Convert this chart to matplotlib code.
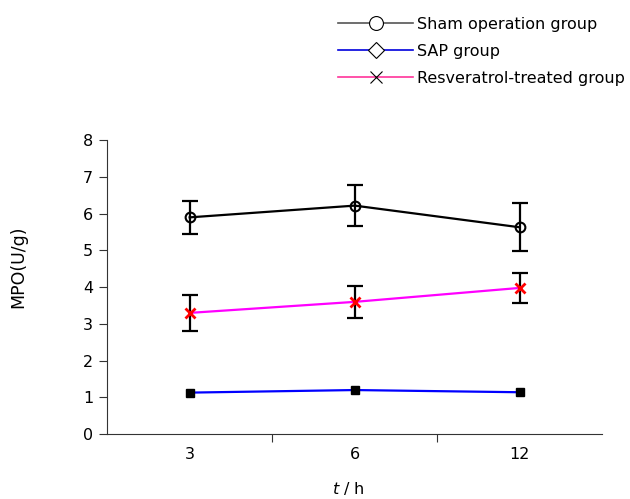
import matplotlib
matplotlib.use("Agg")
import matplotlib.pyplot as plt
from matplotlib.lines import Line2D

categories = ["3", "6", "12"]
sham_mean = [5.90, 6.22, 5.63]
sham_err = [0.45, 0.55, 0.65]
sap_mean = [1.13, 1.20, 1.14]
sap_err = [0.05, 0.05, 0.05]
res_mean = [3.30, 3.60, 3.98]
res_err = [0.50, 0.43, 0.40]
series_labels = ["Sham operation group", "SAP group", "Resveratrol-treated group"]

plt.rcParams['font.family'] = ['DejaVu Sans']
FS = 11.5
fig = plt.figure(figsize=(6.30, 4.99), dpi=100)
ax = fig.add_axes([0.170, 0.130, 0.786, 0.589])

x = list(range(len(categories)))

# lines
ax.plot(x, sham_mean, color='black', lw=1.6, zorder=2)
ax.plot(x, sap_mean, color='#0000ff', lw=1.6, zorder=2)
ax.plot(x, res_mean, color='#ff00ff', lw=1.6, zorder=2)

# error bars
for m, e in [(sham_mean, sham_err), (res_mean, res_err)]:
    ax.errorbar(x, m, yerr=e, fmt='none', ecolor='black', elinewidth=1.6,
                capsize=5.5, capthick=1.6, zorder=3)

# markers
ax.plot(x, sham_mean, ls='none', marker='o', ms=7, mfc='none', mec='black', mew=1.5, zorder=4)
ax.plot(x, sap_mean, ls='none', marker='s', ms=6, mfc='black', mec='black', zorder=4)
ax.plot(x, res_mean, ls='none', marker='x', ms=7, mec='red', mew=2, zorder=4)

ax.set_xlim(-0.5, 2.5)
ax.set_ylim(0, 8)
ax.set_yticks(range(0, 9))
ax.set_xticks(x)
ax.set_xticklabels(categories)
ax.set_xticks([0.5, 1.5], minor=True)
ax.tick_params(axis='x', which='major', length=0, pad=9, labelsize=FS)
ax.tick_params(axis='x', which='minor', length=6, direction='out', width=0.8, color='#333333')
ax.tick_params(axis='y', length=6, direction='out', width=0.8, pad=4, labelsize=FS, color='#333333')

for s in ['top', 'right']:
    ax.spines[s].set_visible(False)
for s in ['left', 'bottom']:
    ax.spines[s].set_color('#333333')
    ax.spines[s].set_linewidth(0.8)

ax.set_ylabel("MPO(U/g)", fontsize=12.5)
ax.yaxis.set_label_coords(-0.162, 0.568)
fig.text(0.553, 0.004, r"$t$ / h", ha='center', va='bottom', fontsize=FS)

handles = [
    Line2D([], [], color='#555555', lw=1.2, marker='o', ms=10, mfc='white', mec='black', mew=0.8),
    Line2D([], [], color='#0000dd', lw=1.2, marker='D', ms=8.5, mfc='white', mec='black', mew=0.8),
    Line2D([], [], color='#ff3399', lw=1.2, marker='x', ms=9, mec='black', mew=0.8),
]
fig.legend(handles, series_labels, loc='upper left', bbox_to_anchor=(0.5365, 0.966),
           frameon=False, fontsize=FS, handlelength=4.7, handletextpad=0.25,
           labelspacing=0.75, borderaxespad=0, borderpad=0)

fig.savefig("out.png", dpi=100)
